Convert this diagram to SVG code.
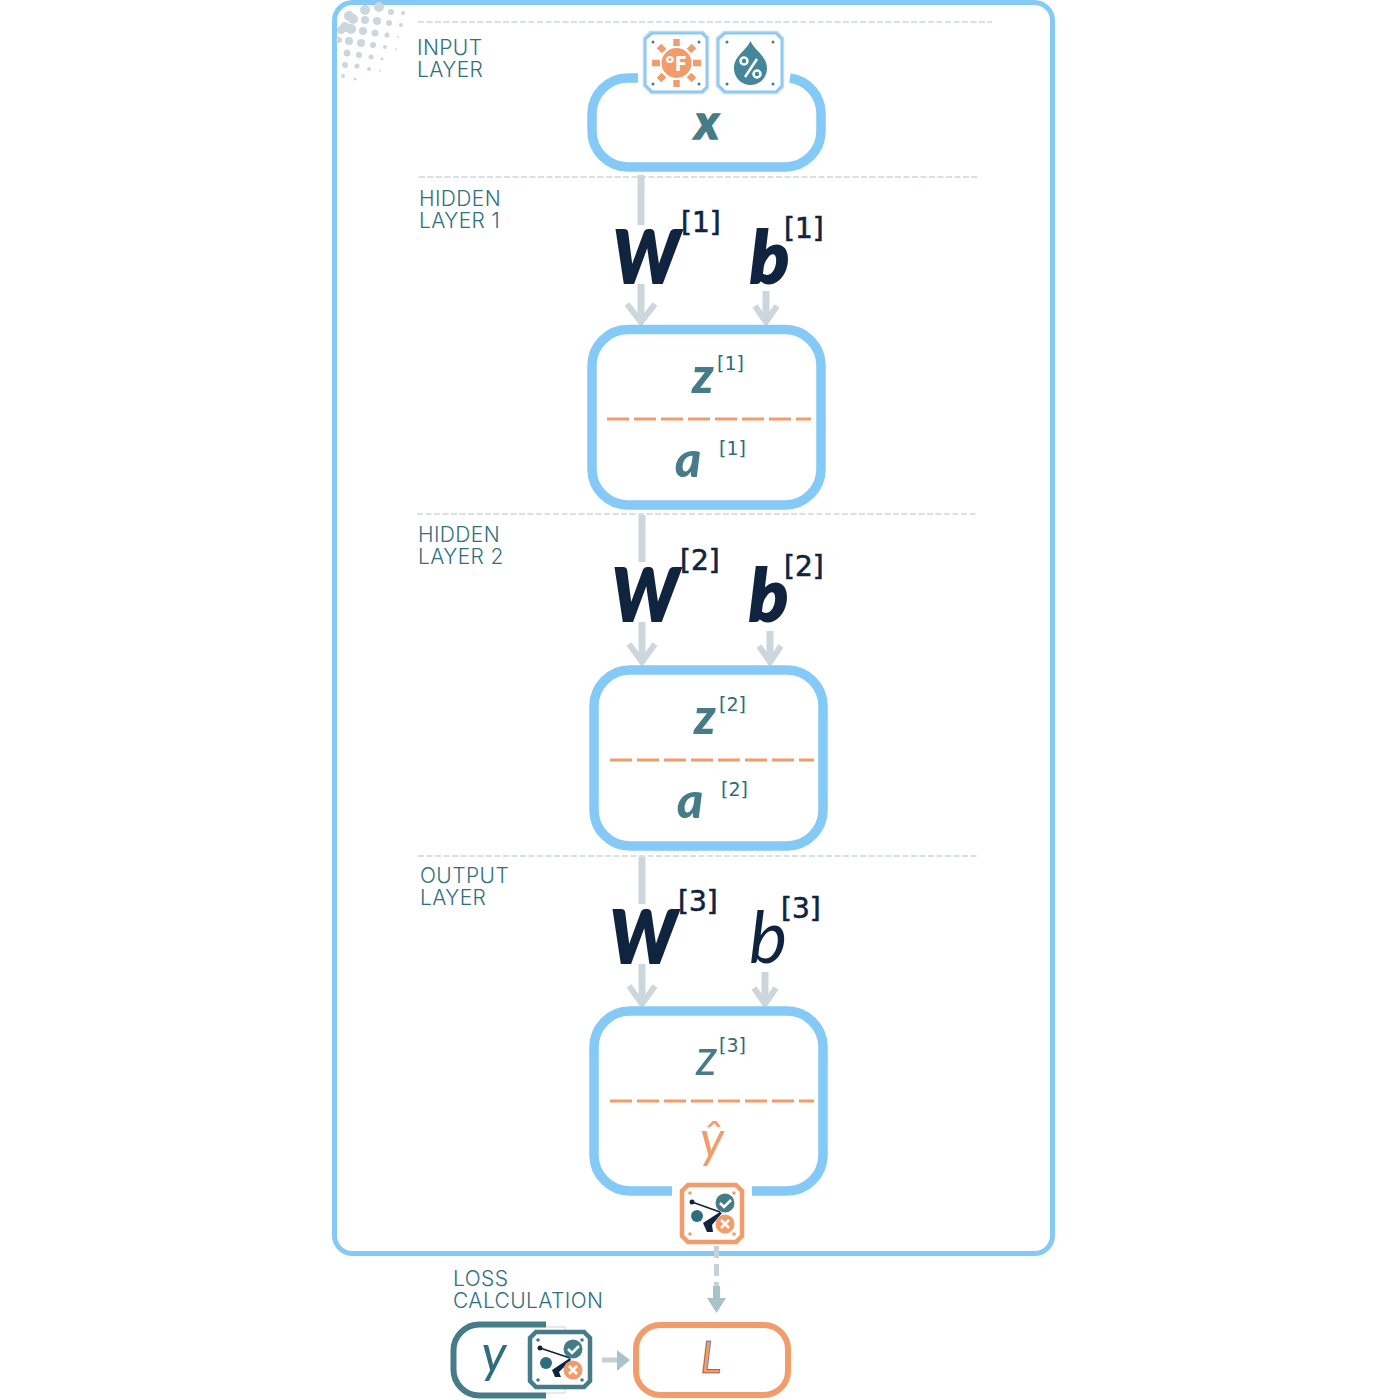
<svg xmlns="http://www.w3.org/2000/svg" width="1400" height="1400" viewBox="0 0 1400 1400">
<style>
.frame{fill:none;stroke:#85c9f7;stroke-width:9.500}
.thin{fill:none;stroke:#85c9f7;stroke-width:5}
.sep{stroke:#cbd6dd;stroke-width:1.500;stroke-dasharray:6 2.500;fill:none}
.odash{stroke:#f39c6b;stroke-width:3;stroke-dasharray:22 5;fill:none}
.lab{font-family:"Inter","Liberation Sans",sans-serif;font-weight:300;font-size:21px;letter-spacing:.4px;fill:#33707e}
.big{font-family:"Lato","Liberation Sans",sans-serif;font-style:italic;font-weight:900;font-size:72px;fill:#10233f;stroke:#10233f;stroke-width:2}
.sup{font-family:"DejaVu Sans","Liberation Sans",sans-serif;font-size:28px;fill:#10233f;stroke:#10233f;stroke-width:.6}
.v{font-family:"Lato","Liberation Sans",sans-serif;font-style:italic;font-weight:900;font-size:50px;fill:#467c88}
.vs{font-family:"DejaVu Sans","Liberation Sans",sans-serif;font-size:19px;fill:#2f6c7c}
.shaft{stroke:#cbd6dd;stroke-width:7;fill:none}
.head{stroke:#cbd6dd;stroke-width:6;fill:none}
.ic{fill:#fff;stroke:#85c9f7;stroke-width:3}
.ico{fill:#fff;stroke:#f39c6b;stroke-width:4.500}
.ict{fill:#fff;stroke:#467c88;stroke-width:4.500}
.halo{fill:none;stroke:#cbd6dd;stroke-width:1.500}
.dot{fill:#467c88}
</style>
<g id="frame">
<rect class="thin" x="334.500" y="2.500" width="718" height="1251" rx="18"/>
<g fill="#cbd6dd">
<circle cx="349" cy="16" r="5"/><circle cx="365" cy="10" r="5"/><circle cx="379" cy="7" r="5"/><circle cx="391" cy="12" r="3"/><circle cx="403" cy="13" r="2"/>
<circle cx="345" cy="27" r="5"/><circle cx="353" cy="19" r="5"/><circle cx="365" cy="20" r="4"/><circle cx="377" cy="21" r="4"/><circle cx="389" cy="23" r="3"/><circle cx="401" cy="25" r="2"/>
<circle cx="341" cy="30" r="4"/><circle cx="351" cy="29" r="5"/><circle cx="363" cy="31" r="4"/><circle cx="375" cy="33" r="3.500"/><circle cx="387" cy="35" r="2.500"/><circle cx="398" cy="37" r="1"/>
<circle cx="339" cy="40" r="3"/><circle cx="349" cy="41" r="4"/><circle cx="361" cy="43" r="4"/><circle cx="373" cy="45" r="3"/><circle cx="385" cy="47" r="2"/><circle cx="396" cy="49" r="1"/>
<circle cx="347" cy="53" r="3.500"/><circle cx="359" cy="55" r="3"/><circle cx="371" cy="57" r="2.500"/><circle cx="382" cy="59" r="1.500"/>
<circle cx="345" cy="65" r="3"/><circle cx="357" cy="66" r="2.500"/><circle cx="369" cy="69" r="2"/><circle cx="380" cy="71" r="1"/>
<circle cx="343" cy="76" r="2"/><circle cx="355" cy="79" r="1.500"/>
</g>
</g>
<g id="separators">
<path class="sep" d="M418 22H992"/><path class="sep" d="M419 177H980"/><path class="sep" d="M417 514H978"/><path class="sep" d="M418 856H979"/>
</g>
<g id="connectors">
<path class="shaft" d="M641 175V225"/>
<path class="shaft" d="M641 284V322"/><path class="head" d="M627 304L641 322L655 304"/>
<path class="shaft" d="M766 291V322"/><path class="head" d="M755 306L766 322L777 306"/>
<path class="shaft" d="M642 515V562"/>
<path class="shaft" d="M642 622V662"/><path class="head" d="M629 644L642 662L655 644"/>
<path class="shaft" d="M770 631V662"/><path class="head" d="M759 646L770 662L781 646"/>
<path class="shaft" d="M642 857V904"/>
<path class="shaft" d="M642 964V1004"/><path class="head" d="M629 986L642 1004L655 986"/>
<path class="shaft" d="M765 972V1004"/><path class="head" d="M754 988L765 1004L776 988"/>
<path d="M716.500 1246V1300" stroke="#c3d3d9" stroke-width="5" stroke-dasharray="12 6" fill="none"/>
<path d="M707 1298H726L716.500 1313Z" fill="#a9c3cb"/><rect x="713" y="1286" width="7" height="14" fill="#a9c3cb"/>
<path d="M602 1360H622" stroke="#bfd0d6" stroke-width="5"/><path d="M617 1350L630 1360L617 1371Z" fill="#a9c3cb"/>
</g>
<g id="node-x">
<path class="frame" d="M638 78H628A36 36 0 0 0 592 114V131A36 36 0 0 0 628 167H785A36 36 0 0 0 821 131V114A36 36 0 0 0 790 78"/>
<text x="707" y="139" text-anchor="middle" class="v" style="font-size:48px;stroke:#467c88;stroke-width:1.500">x</text>
</g>
<g id="icon-temp">
<path class="ic" d="M652 33H702L707 38V87L702 92H652L645 85V39Z"/>
<path class="halo" d="M650 31.500H703L708.500 37V88L703 93.500H651L643.500 86V38Z"/>
<g class="dot"><circle cx="653" cy="42" r="1.500"/><circle cx="699" cy="42" r="1.500"/><circle cx="653" cy="84" r="1.500"/><circle cx="699" cy="84" r="1.500"/></g>
<g stroke="#f39c6b" stroke-width="6.500">
<path d="M676.500 39V46M676.500 80V87M652 63H660M693 63H701M659 46L664 51M689 75L694 80M694 46L689 51M664 75L659 80"/></g>
<circle cx="676.500" cy="63" r="15" fill="#f39c6b"/>
<text x="676" y="71" text-anchor="middle" font-family="Noto Sans,sans-serif" font-weight="700" font-size="22" fill="#fff">°F</text>
</g>
<g id="icon-humidity">
<path class="ic" d="M725 33H776L782 39V86L776 92H725L718 85V39Z"/>
<path class="halo" d="M724 31.500H777L783.500 38V87L777 93.500H724L716.500 86V38Z"/>
<g class="dot"><circle cx="727" cy="42" r="1.500"/><circle cx="773" cy="42" r="1.500"/><circle cx="727" cy="84" r="1.500"/><circle cx="773" cy="84" r="1.500"/></g>
<path d="M750.500 41C755 51 767 56 767 68.500A16.500 16.500 0 0 1 734 68.500C734 56 746 51 750.500 41Z" fill="#44879b"/>
<path d="M757 59L745 77" stroke="#fff" stroke-width="2.500"/>
<circle cx="744" cy="61" r="3.500" fill="none" stroke="#fff" stroke-width="2.500"/><circle cx="757" cy="74" r="3.500" fill="none" stroke="#fff" stroke-width="2.500"/>
</g>
<g id="label-input"><text class="lab"><tspan x="417" y="55">INPUT</tspan><tspan x="417" y="76.500">LAYER</tspan></text></g>
<g id="label-h1"><text class="lab"><tspan x="419" y="206">HIDDEN</tspan><tspan x="419" y="228">LAYER 1</tspan></text></g>
<g id="label-h2"><text class="lab"><tspan x="418" y="542">HIDDEN</tspan><tspan x="418" y="564">LAYER 2</tspan></text></g>
<g id="label-out"><text class="lab"><tspan x="420" y="883">OUTPUT</tspan><tspan x="420" y="905">LAYER</tspan></text></g>
<g id="label-loss"><text class="lab"><tspan x="453" y="1286">LOSS</tspan><tspan x="453" y="1308">CALCULATION</tspan></text></g>
<g id="w1"><text class="big" x="613" y="283" textLength="66" lengthAdjust="spacingAndGlyphs">W</text><text class="sup" x="681" y="232">[1]</text></g>
<g id="b1"><text class="big" x="750" y="283">b</text><text class="sup" x="784" y="238">[1]</text></g>
<g id="w2"><text class="big" x="612" y="621" textLength="66" lengthAdjust="spacingAndGlyphs">W</text><text class="sup" x="680" y="570">[2]</text></g>
<g id="b2"><text class="big" x="749" y="621">b</text><text class="sup" x="784" y="576">[2]</text></g>
<g id="w3"><text class="big" x="610" y="963" textLength="66" lengthAdjust="spacingAndGlyphs">W</text><text class="sup" x="678" y="911">[3]</text></g>
<g id="b3"><text class="big" x="749" y="963" style="font-weight:400;stroke-width:0">b</text><text class="sup" x="781" y="918">[3]</text></g>
<g id="node-h1">
<rect class="frame" x="592" y="329.500" width="229" height="175.500" rx="36"/>
<path class="odash" d="M607 419H811"/>
<text class="v" x="692" y="393">z</text><text class="vs" x="717" y="370">[1]</text>
<text class="v" x="675" y="477">a</text><text class="vs" x="719" y="455">[1]</text>
</g>
<g id="node-h2">
<rect class="frame" x="594" y="670" width="229" height="176" rx="36"/>
<path class="odash" d="M610 760H814"/>
<text class="v" x="694" y="734">z</text><text class="vs" x="719" y="711">[2]</text>
<text class="v" x="677" y="818">a</text><text class="vs" x="721" y="796">[2]</text>
</g>
<g id="node-out">
<path class="frame" d="M672 1191H630A36 36 0 0 1 594 1155V1047A36 36 0 0 1 630 1011H787A36 36 0 0 1 823 1047V1155A36 36 0 0 1 787 1191H752"/>
<path class="odash" d="M610 1101H814"/>
<text class="v" x="696" y="1075" style="font-weight:400">z</text><text class="vs" x="719" y="1052">[3]</text>
<text x="712" y="1157" text-anchor="middle" class="v" style="font-weight:400;fill:#f39c6b">ŷ</text>
</g>
<g id="icon-loss-a">
<path class="ico" d="M688 1185H736L742 1191V1236L736 1242H688L682 1236V1191Z"/>
<g fill="#f39c6b"><circle cx="690" cy="1193" r="1.800"/><circle cx="734" cy="1193" r="1.800"/><circle cx="690" cy="1234" r="1.800"/><circle cx="734" cy="1234" r="1.800"/></g>
<path d="M692 1202L720 1212" stroke="#10233f" stroke-width="1.800" fill="none"/><circle cx="692" cy="1202" r="2.500" fill="#10233f"/>
<path d="M720 1212L703 1223L707 1232H713L712 1225L722 1213Z" fill="#10233f"/>
<circle cx="697" cy="1216" r="6" fill="#2f6c7c"/>
<circle cx="725" cy="1203" r="9.500" fill="#467c88"/><path d="M720 1203L724 1207L731 1200" stroke="#fff" stroke-width="2.500" fill="none"/>
<circle cx="725" cy="1224" r="9.500" fill="#f39c6b"/><path d="M721 1220L729 1228M729 1220L721 1228" stroke="#fff" stroke-width="2.500"/>
</g>
<g id="node-y">
<rect x="480" y="1327" width="85" height="66" fill="none" stroke="#cbd6dd" stroke-width="1"/>
<path d="M546 1324.500H480A26 26 0 0 0 453.500 1351V1369A26 26 0 0 0 480 1395.500H546" fill="#fff" stroke="#467c88" stroke-width="6"/>
<text x="494" y="1372" text-anchor="middle" class="v" style="font-weight:400;font-size:52px;fill:#2f6c7c">y</text>
</g>
<g id="icon-loss-b">
<path class="ict" d="M536 1332H584L590 1338V1381L584 1387H536L530 1381V1338Z"/>
<g class="dot"><circle cx="538" cy="1340" r="1.800"/><circle cx="582" cy="1340" r="1.800"/><circle cx="538" cy="1380" r="1.800"/><circle cx="582" cy="1380" r="1.800"/></g>
<path d="M540 1348L570 1358" stroke="#10233f" stroke-width="1.800" fill="none"/><circle cx="540" cy="1348" r="2.500" fill="#10233f"/>
<path d="M570 1358L552 1370L555 1377H561L559 1372L571 1360Z" fill="#10233f"/>
<circle cx="546" cy="1363" r="6" fill="#2f6c7c"/>
<circle cx="573" cy="1349" r="9.500" fill="#467c88"/><path d="M568 1349L572 1353L579 1346" stroke="#fff" stroke-width="2.500" fill="none"/>
<circle cx="573" cy="1370" r="9.500" fill="#f39c6b"/><path d="M569 1366L577 1374M577 1366L569 1374" stroke="#fff" stroke-width="2.500"/>
</g>
<g id="node-L">
<rect x="636" y="1325" width="152" height="70" rx="24" fill="none" stroke="#f39c6b" stroke-width="6"/>
<text x="711" y="1373" text-anchor="middle" font-family="Lato,sans-serif" font-style="italic" font-size="44" fill="#f39c6b" stroke="#10233f" stroke-width="0.500">L</text>
</g>
</svg>
